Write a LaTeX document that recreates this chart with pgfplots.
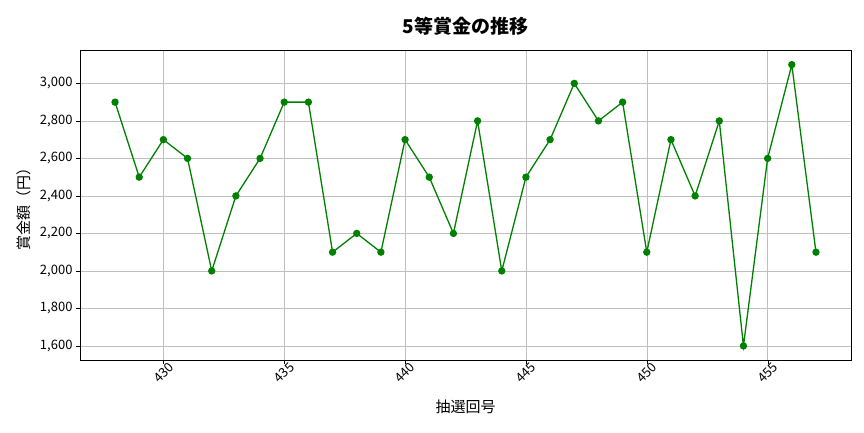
\documentclass[border=0pt]{standalone}
\usepackage{pgfplots}
\pgfplotsset{compat=1.18}
\usepackage{fontspec}
\setmainfont{Noto Sans CJK JP}
\definecolor{mplgreen}{RGB}{0,128,0}
\begin{document}
\begin{tikzpicture}[x=1pt,y=1pt]
\useasboundingbox (0,0) rectangle (864,432);
\begin{axis}[
  at={(80pt,72pt)}, anchor=south west,
  scale only axis, width=771pt, height=310pt,
  xmin=426.55, xmax=458.45, ymin=1525, ymax=3178,
  xtick={430,435,...,455},
  ytick={1600,1800,...,3000},
  /pgf/number format/assume math mode=true,
  /pgf/number format/1000 sep={,},
  xticklabel={\fontsize{13}{15}\selectfont\pgfmathprintnumber{\tick}},
  yticklabel={\fontsize{13}{15}\selectfont\pgfmathprintnumber{\tick}},
  x tick label style={yshift=-9pt, rotate=45, anchor=center},
  scaled y ticks=false,
  grid=major,
  grid style={gray!50, line width=0.5pt},
  axis line style={black, line width=0.6pt},
  tick style={black},
  major tick length=4pt,
  tick align=outside,
  xtick pos=bottom, ytick pos=left,
  title={\fontsize{19}{22}\selectfont\bfseries 5等賞金の推移},
  title style={yshift=5pt},
  xlabel={\fontsize{15}{18}\selectfont 抽選回号},
  xlabel style={yshift=-8pt},
  ylabel={\fontsize{15}{18}\selectfont 賞金額（円）},
  ylabel style={yshift=2pt},
]
\addplot[color=mplgreen, line width=1.3pt, mark=*, mark size=3pt, mark options={fill=mplgreen, draw=mplgreen}] coordinates {
(428,2900) (429,2500) (430,2700) (431,2600) (432,2000) (433,2400) (434,2600) (435,2900) (436,2900) (437,2100)
(438,2200) (439,2100) (440,2700) (441,2500) (442,2200) (443,2800) (444,2000) (445,2500) (446,2700) (447,3000)
(448,2800) (449,2900) (450,2100) (451,2700) (452,2400) (453,2800) (454,1600) (455,2600) (456,3100) (457,2100)
};
\end{axis}
\end{tikzpicture}
\end{document}
